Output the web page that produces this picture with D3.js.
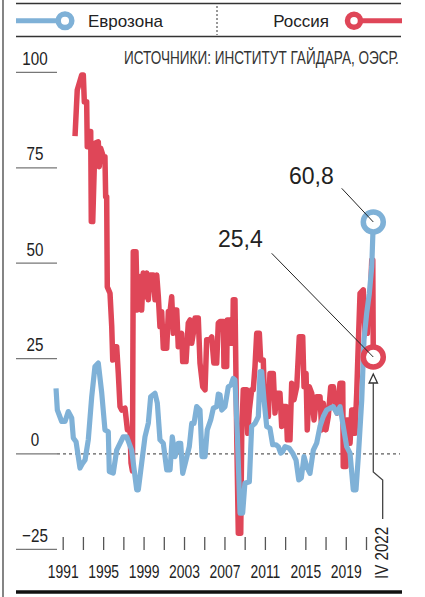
<!DOCTYPE html>
<html>
<head>
<meta charset="utf-8">
<script src="https://cdn.jsdelivr.net/npm/d3@7"></script>
<style>
  body { margin: 0; background: #fff; }
  svg { display: block; font-family: 'Liberation Sans', Arial, sans-serif; }
</style>
</head>
<body>
<svg id="chart" width="425" height="597"></svg>
<script>
// Eurozone series (decimal year, value)
const euroYears = [1990.34, 1990.47, 1990.9, 1991.23, 1991.55, 1991.89, 1992.05, 1992.32, 1992.71, 1992.98,
  1993.21, 1993.53, 1993.87, 1994.19, 1994.52, 1994.86, 1995.18, 1995.51, 1995.61, 1996.0,
  1996.34, 1996.99, 1997.33, 1997.82, 1998.32, 1998.48, 1998.81, 1999.14, 1999.47, 1999.7,
  2000.13, 2000.36, 2000.62, 2000.95, 2001.29, 2001.62, 2001.84, 2002.11, 2002.43, 2002.67,
  2002.87, 2003.2, 2003.52, 2003.76, 2003.99, 2004.25, 2004.58, 2004.78, 2005.08, 2005.3,
  2005.64, 2005.9, 2006.23, 2006.39, 2006.56, 2006.73, 2007.05, 2007.38, 2007.65, 2007.87,
  2008.04, 2008.27, 2008.54, 2008.8, 2009.02, 2009.46, 2009.69, 2010.02, 2010.35, 2010.52,
  2010.68, 2010.91, 2011.18, 2011.5, 2011.77, 2012.1, 2012.33, 2012.56, 2012.76, 2012.99,
  2013.41, 2013.75, 2014.08, 2014.35, 2014.6, 2014.87, 2015.13, 2015.46, 2015.79, 2016.12,
  2016.45, 2016.78, 2017.11, 2017.44, 2017.77, 2018.1, 2018.43, 2018.75, 2019.09, 2019.42,
  2019.74, 2020.01, 2020.24, 2020.58, 2020.8, 2021.07, 2021.33, 2021.57, 2021.72];
const euroValues = [17.2, 11.5, 8.5, 8.5, 11.1, 9.4, 4.2, 3.2, -3.7, -2.4,
  -1.6, 3.7, 15.0, 22.9, 23.8, 16.0, 6.3, 5.8, -4.6, -5.0,
  1.0, 4.5, 4.5, 1.0, -9.4, -9.4, -2.4, 4.5, 8.1, 15.0,
  15.9, 13.3, 3.7, 2.8, -4.2, -4.2, 4.5, -0.7, 2.8, 2.8,
  -5.1, -1.6, 1.9, 8.0, 8.0, 12.4, 11.5, -0.7, -0.7, 6.3,
  8.9, 12.0, 12.4, 15.7, 15.5, 11.5, 12.4, 17.6, 18.1, 19.8,
  19.4, 5.4, -15.5, -15.5, -7.7, -7.3, 7.2, 8.0, 9.8, 21.6,
  21.6, 14.2, 7.2, 6.7, 2.4, 2.4, 1.9, 0.2, 0.6, 1.9,
  1.5, 0.2, -1.6, -6.8, -6.3, -0.7, -3.3, -5.1, 1.0, 2.8,
  7.2, 9.8, 11.5, 12.0, 12.4, 10.7, 12.4, 7.2, 1.9, 0.2,
  -9.4, -9.4, -0.7, 14.2, 29.9, 36.9, 42.1, 49.1, 60.8];

// Russia series (decimal year, value)
const rusYears = [1992.22, 1992.44, 1992.88, 1993.04, 1993.14, 1993.37, 1993.43, 1993.63, 1993.77, 1993.83,
  1993.97, 1994.19, 1994.52, 1994.62, 1994.76, 1995.02, 1995.18, 1995.25, 1995.35, 1995.41,
  1995.68, 1995.85, 1995.95, 1996.17, 1996.34, 1996.5, 1996.67, 1996.84, 1997.16, 1997.4,
  1997.66, 1997.76, 1997.9, 1997.98, 1998.25, 1998.38, 1998.65, 1998.81, 1998.97, 1999.14,
  1999.31, 1999.47, 1999.64, 1999.96, 2000.13, 2000.3, 2000.46, 2000.62, 2000.79, 2000.95,
  2001.29, 2001.45, 2001.62, 2001.78, 2001.94, 2002.11, 2002.28, 2002.43, 2002.77, 2002.87,
  2003.2, 2003.42, 2003.59, 2003.76, 2003.92, 2004.09, 2004.41, 2004.58, 2004.85, 2005.08,
  2005.24, 2005.57, 2005.74, 2005.95, 2006.23, 2006.39, 2006.56, 2006.89, 2006.95, 2007.22,
  2007.28, 2007.55, 2007.62, 2007.82, 2007.87, 2008.04, 2008.21, 2008.37, 2008.61, 2008.71,
  2008.86, 2009.2, 2009.3, 2009.46, 2009.69, 2009.85, 2010.02, 2010.19, 2010.45, 2010.58,
  2010.84, 2010.94, 2011.18, 2011.34, 2011.5, 2011.83, 2012.0, 2012.17, 2012.49, 2012.66,
  2012.82, 2013.09, 2013.22, 2013.48, 2013.65, 2013.88, 2014.15, 2014.4, 2014.74, 2014.87,
  2015.07, 2015.19, 2015.39, 2015.63, 2015.86, 2016.12, 2016.45, 2016.62, 2016.78, 2017.04,
  2017.27, 2017.51, 2017.77, 2017.93, 2018.16, 2018.43, 2018.7, 2018.75, 2019.02, 2019.09,
  2019.35, 2019.42, 2019.59, 2019.74, 2019.91, 2020.08, 2020.24, 2020.41, 2020.73, 2020.9,
  2021.13, 2021.23, 2021.4, 2021.57, 2021.67, 2021.72];
const rusValues = [83.3, 95.4, 99.3, 99.3, 92.3, 92.3, 80.5, 84.5, 84.5, 60.9,
  60.9, 81.4, 81.8, 75.3, 80.1, 77.9, 77.9, 67.4, 67.4, 43.8,
  42.1, 33.4, 24.6, 28.1, 28.1, 21.1, 12.4, 11.5, 12.0, 6.3,
  6.3, -2.4, -4.5, 53.0, 53.0, 37.7, 46.5, 37.7, 47.4, 41.2,
  47.4, 40.4, 46.9, 46.9, 40.4, 46.9, 41.2, 33.4, 37.3, 27.7,
  27.7, 37.3, 37.3, 41.2, 31.6, 37.7, 37.7, 28.1, 31.6, 24.2,
  24.2, 34.3, 35.1, 29.0, 31.6, 35.6, 35.6, 23.8, 17.6, 16.8,
  29.9, 29.9, 30.7, 23.8, 23.8, 34.3, 34.7, 34.7, 22.9, 22.9,
  35.1, 35.1, 29.0, 29.0, 40.4, 40.4, 5.4, -20.8, -20.8, 5.4,
  16.8, 16.8, 5.4, 11.5, 16.8, 16.8, 22.9, 31.6, 31.6, 24.6,
  24.6, 15.9, 16.8, 9.8, 21.1, 21.1, 10.7, 15.9, 15.9, 7.2,
  12.4, 12.4, 3.7, 3.7, 18.5, 14.2, 17.6, 30.7, 30.7, 17.6,
  21.1, 6.3, 17.6, 15.9, 8.9, 15.0, 15.0, 6.3, 13.3, 6.3,
  9.8, 17.6, 17.6, 13.3, 10.7, 18.5, 18.5, -3.3, -3.3, 8.9,
  8.9, 2.8, 11.5, 11.5, 5.4, 15.9, 29.0, 42.1, 43.0, 31.6,
  31.6, 38.6, 38.6, 50.8, 50.8, 25.4];

const yTicks = [-25, 0, 25, 50, 75, 100];
const xTickYears = [1991, 1993, 1995, 1997, 1999, 2001, 2003, 2005, 2007, 2009, 2011, 2013, 2015, 2017, 2019, 2021];
const xLabelYears = [1991, 1995, 1999, 2003, 2007, 2011, 2015, 2019];
const seriesNames = ['Еврозона', 'Россия'];
const sourceText = 'ИСТОЧНИКИ: ИНСТИТУТ ГАЙДАРА, ОЭСР.';
const lastLabel = 'IV 2022';
const euroLast = '60,8';
const rusLast = '25,4';

const blue = '#7fb1d7';
const red = '#df4658';
const ink = '#222';

const svg = d3.select('#chart');

const x = d3.scaleLinear().domain([1991, 2021]).range([62.7, 366]);
const y = d3.scaleLinear().domain([-25, 100]).range([549.3, 72.4]);

// frame: left rule, legend rules, bottom bar
svg.append('line').attr('x1', 3).attr('x2', 3).attr('y1', 0).attr('y2', 597)
  .attr('stroke', '#333').attr('stroke-width', 1.2);
[3.5, 36.5].forEach(yy => {
  svg.append('line').attr('x1', 16).attr('x2', 401).attr('y1', yy).attr('y2', yy)
    .attr('stroke', '#333').attr('stroke-width', 1.3);
});
svg.append('line').attr('x1', 217).attr('x2', 217).attr('y1', 6).attr('y2', 35)
  .attr('stroke', '#333').attr('stroke-dasharray', '2,2');
svg.append('line').attr('x1', 16).attr('x2', 402).attr('y1', 592).attr('y2', 592)
  .attr('stroke', '#111').attr('stroke-width', 3.5);

// legend
svg.append('line').attr('x1', 16).attr('x2', 65).attr('y1', 20.7).attr('y2', 20.7)
  .attr('stroke', blue).attr('stroke-width', 5);
svg.append('circle').attr('cx', 65).attr('cy', 20.7).attr('r', 6.8)
  .attr('fill', '#fff').attr('stroke', blue).attr('stroke-width', 5.5);
svg.append('text').attr('x', 88).attr('y', 27).attr('font-size', 17).attr('fill', ink)
  .text(seriesNames[0]);
svg.append('line').attr('x1', 354).attr('x2', 402).attr('y1', 20.7).attr('y2', 20.7)
  .attr('stroke', red).attr('stroke-width', 5);
svg.append('circle').attr('cx', 354).attr('cy', 20.7).attr('r', 6.5)
  .attr('fill', '#fff').attr('stroke', red).attr('stroke-width', 5.5);
svg.append('text').attr('x', 329).attr('y', 27).attr('font-size', 17).attr('fill', ink)
  .attr('text-anchor', 'end').text(seriesNames[1]);

// source line, squeezed to the width of the original
const src = svg.append('text').attr('font-size', 18).attr('fill', '#333').text(sourceText);
const srcW = src.node().getComputedTextLength();
src.attr('transform', `translate(124,64.3) scale(${275 / srcW},1)`);

// y axis: short rules with labels above
const yG = svg.append('g');
yTicks.forEach(v => {
  yG.append('line').attr('x1', 16).attr('x2', 57).attr('y1', y(v)).attr('y2', y(v))
    .attr('stroke', '#777').attr('stroke-width', 1.3);
  yG.append('text')
    .attr('transform', `translate(35,${y(v) - 7.5}) scale(0.8,1)`)
    .attr('text-anchor', 'middle').attr('font-size', 19).attr('fill', ink)
    .text(v < 0 ? '\u2212' + Math.abs(v) : v);
});
svg.append('line').attr('x1', 57).attr('x2', 400).attr('y1', y(0)).attr('y2', y(0))
  .attr('stroke', '#333').attr('stroke-dasharray', '3,3');

// x axis
const xAxis = d3.axisBottom(x)
  .tickValues(xTickYears)
  .tickSize(13)
  .tickFormat(d => xLabelYears.includes(d) ? d : '');
const xAxisG = svg.append('g').attr('transform', 'translate(0,537)').call(xAxis);
xAxisG.select('.domain').remove();
xAxisG.selectAll('.tick line').attr('stroke', '#555').attr('stroke-width', 1.3);
xAxisG.selectAll('.tick text')
  .attr('y', 41).attr('dy', 0)
  .attr('transform', 'scale(0.73,1)')
  .attr('font-size', 19).attr('font-family', "'Liberation Sans', Arial, sans-serif")
  .attr('fill', ink);

// lines
const rusData = rusYears.map((t, i) => ({ t: t, v: rusValues[i] }));
const euroData = euroYears.map((t, i) => ({ t: t, v: euroValues[i] }));
const line = d3.line().x(d => x(d.t)).y(d => y(d.v));

svg.append('path').datum(rusData).attr('d', line)
  .attr('fill', 'none').attr('stroke', red).attr('stroke-width', 5.5)
  .attr('stroke-linejoin', 'round');
svg.append('path').datum(euroData).attr('d', line)
  .attr('fill', 'none').attr('stroke', blue).attr('stroke-width', 5.2)
  .attr('stroke-linejoin', 'round');

// end markers
const eEnd = euroData[euroData.length - 1];
const rEnd = rusData[rusData.length - 1];
svg.append('circle').attr('cx', x(eEnd.t)).attr('cy', y(eEnd.v)).attr('r', 10)
  .attr('fill', '#fff').attr('stroke', blue).attr('stroke-width', 5.5);
svg.append('circle').attr('cx', x(rEnd.t)).attr('cy', y(rEnd.v)).attr('r', 10)
  .attr('fill', '#fff').attr('stroke', red).attr('stroke-width', 5.5);

// callouts
svg.append('line').attr('x1', 341.7).attr('y1', 188.3).attr('x2', x(eEnd.t)).attr('y2', y(eEnd.v))
  .attr('stroke', ink).attr('stroke-width', 1);
svg.append('text').attr('x', 289).attr('y', 183.5).attr('font-size', 23).attr('fill', ink)
  .text(euroLast);
svg.append('line').attr('x1', 271.7).attr('y1', 253.3).attr('x2', x(rEnd.t)).attr('y2', y(rEnd.v))
  .attr('stroke', ink).attr('stroke-width', 1);
svg.append('text').attr('x', 218).attr('y', 247).attr('font-size', 23).attr('fill', ink)
  .text(rusLast);

// period marker
const lx = x(rEnd.t);
svg.append('path')
  .attr('d', `M${lx},374 L${lx - 4.2},383 L${lx + 4.2},383 Z`)
  .attr('fill', '#fff').attr('stroke', '#333').attr('stroke-width', 1.3);
svg.append('path')
  .attr('d', `M${lx},383 V472 L${lx + 9.4},480 V519`)
  .attr('fill', 'none').attr('stroke', '#444').attr('stroke-width', 1.3);
svg.append('text')
  .attr('transform', `translate(${lx + 14.5},579) rotate(-90) scale(0.84,1)`)
  .attr('font-size', 18).attr('fill', ink)
  .text(lastLabel);
</script>
</body>
</html>
